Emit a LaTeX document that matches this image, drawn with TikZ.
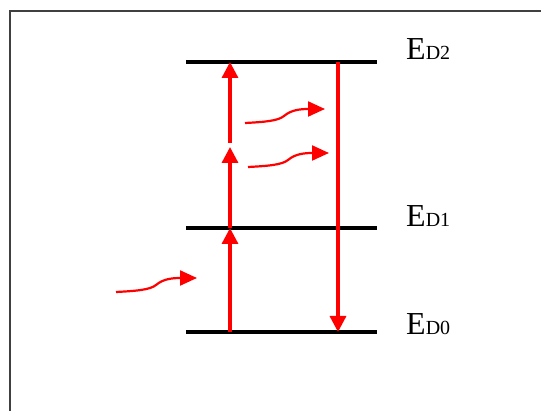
\documentclass[tikz,border=0pt]{standalone}
\usepackage{fontspec}
\setmainfont{Liberation Serif}
\usetikzlibrary{arrows.meta}
\newcommand{\lvlabel}[1]{{\fontsize{32}{32}\selectfont E}{\fontsize{20}{20}\selectfont D#1}}
\tikzset{
  frame/.style={line width=1.6pt, draw=black!75},
  level/.style={line width=3.3pt, draw=black},
  transition/.style={line width=3.3pt, draw=red, -{Triangle[length=16pt,width=16pt]}},
  photon/.style={line width=2.2pt, draw=red, -{Triangle[length=17pt,width=15pt]}},
  lvtext/.style={anchor=base west, inner sep=0pt}
}
\begin{document}
\begin{tikzpicture}[x=1pt, y=-1pt]
  \useasboundingbox (0,0) rectangle (541,411);
  % open frame: left and top edges
  \coordinate (fbl) at (10,412);
  \coordinate (ftl) at (10,11);
  \coordinate (ftr) at (542,11);
  \draw[frame] (fbl) -- (ftl) -- (ftr);

  % energy levels
  \coordinate (l2a) at (186,62);  \coordinate (l2b) at (377,62);
  \coordinate (l1a) at (186,228); \coordinate (l1b) at (377,228);
  \coordinate (l0a) at (186,332); \coordinate (l0b) at (377,332);
  \draw[level] (l2a) -- (l2b);
  \draw[level] (l1a) -- (l1b);
  \draw[level] (l0a) -- (l0b);

  % level labels
  \node[lvtext] (t2) at (406,60)  {\lvlabel{2}};
  \node[lvtext] (t1) at (406,227) {\lvlabel{1}};
  \node[lvtext] (t0) at (406,335) {\lvlabel{0}};

  % stepwise excitation
  \coordinate (u0) at (230,332);
  \coordinate (u1) at (230,228);
  \coordinate (u1s) at (230,228);
  \coordinate (um) at (230,147);
  \coordinate (ums) at (230,143);
  \coordinate (u2) at (230,62);
  \draw[transition] (u0) -- (u1);
  \draw[transition] (u1s) -- (um);
  \draw[transition] (ums) -- (u2);

  % relaxation
  \coordinate (d2) at (338,62);
  \coordinate (d0) at (338,332);
  \draw[transition] (d2) -- (d0);

  % incoming photons
  \coordinate (p1s) at (116,292); \coordinate (p1e) at (197,278);
  \draw[photon] (p1s) .. controls (135,291) and (150,290) .. (156,285)
                      .. controls (163,279) and (172,278) .. (p1e);
  \coordinate (p2s) at (248,167); \coordinate (p2e) at (329,153);
  \draw[photon] (p2s) .. controls (267,166) and (282,165) .. (288,160)
                      .. controls (295,154) and (304,153) .. (p2e);
  \coordinate (p3s) at (245,123); \coordinate (p3e) at (325,109);
  \draw[photon] (p3s) .. controls (264,122) and (278,121) .. (284,116)
                      .. controls (291,110) and (300,109) .. (p3e);
\end{tikzpicture}
\end{document}
